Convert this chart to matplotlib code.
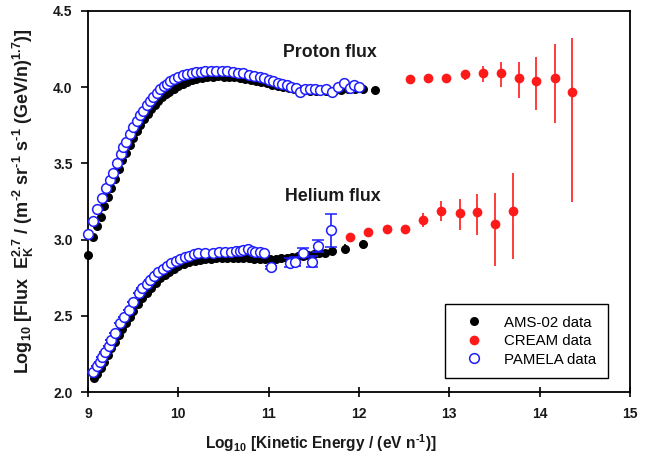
import matplotlib
matplotlib.use("Agg")
import matplotlib.pyplot as plt
from matplotlib.lines import Line2D

plt.rcParams['font.family'] = ['Liberation Sans', 'DejaVu Sans']
plt.rcParams['mathtext.fontset'] = 'custom'
plt.rcParams['mathtext.rm'] = 'Liberation Sans'
plt.rcParams['mathtext.bf'] = 'Liberation Sans:bold'

# ---------------- data ----------------
# Proton, PAMELA
pam_p_x = [9.00, 9.05, 9.10, 9.15, 9.20, 9.24, 9.28, 9.32, 9.36, 9.39, 9.42, 9.46, 9.50,
           9.54, 9.58, 9.61, 9.65, 9.69, 9.72, 9.76, 9.80, 9.84, 9.87, 9.91, 9.95, 10.00,
           10.05, 10.10, 10.15, 10.20, 10.25, 10.30, 10.36, 10.42, 10.48, 10.54, 10.60,
           10.66, 10.72, 10.78, 10.84, 10.90, 10.95, 11.00, 11.05, 11.10, 11.15, 11.20,
           11.25, 11.30, 11.35, 11.40, 11.46, 11.51, 11.57, 11.63, 11.70, 11.77, 11.83,
           11.90, 11.95, 12.00]
pam_p_y = [3.04, 3.12, 3.20, 3.275, 3.34, 3.39, 3.44, 3.50, 3.56, 3.605, 3.64, 3.69, 3.737,
           3.78, 3.815, 3.847, 3.88, 3.91, 3.935, 3.96, 3.985, 4.005, 4.023, 4.04, 4.052, 4.068,
           4.078, 4.086, 4.092, 4.097, 4.100, 4.104, 4.107, 4.108, 4.108, 4.104, 4.100,
           4.095, 4.090, 4.083, 4.075, 4.067, 4.060, 4.050, 4.040, 4.030, 4.020, 4.012,
           4.004, 3.995, 3.970, 3.990, 3.985, 3.990, 3.980, 3.990, 3.968, 4.000, 4.030,
           3.995, 4.015, 4.000]

# Proton, AMS-02
ams_p_x = [9.00, 9.06, 9.10, 9.14, 9.18, 9.22, 9.26, 9.30, 9.34, 9.38, 9.42, 9.46, 9.50,
           9.54, 9.58, 9.62, 9.66, 9.70, 9.74, 9.78, 9.82, 9.86, 9.90, 9.95, 10.00, 10.05,
           10.10, 10.15, 10.20, 10.26, 10.32, 10.38, 10.44, 10.50, 10.56, 10.62, 10.68,
           10.74, 10.80, 10.86, 10.92, 10.98, 11.04, 11.10, 11.16, 11.22, 11.28, 11.34,
           11.40, 11.46, 11.52, 11.58, 11.64, 11.72, 11.80, 11.88, 11.96, 12.04, 12.18]
ams_p_y = [2.90, 3.02, 3.09, 3.15, 3.22, 3.28, 3.34, 3.40, 3.46, 3.52, 3.57, 3.62, 3.665,
           3.71, 3.75, 3.79, 3.825, 3.855, 3.885, 3.91, 3.935, 3.955, 3.97, 3.99, 4.005, 4.02,
           4.035, 4.045, 4.055, 4.06, 4.065, 4.07, 4.072, 4.07, 4.068, 4.064, 4.06,
           4.055, 4.048, 4.04, 4.033, 4.025, 4.017, 4.01, 4.003, 3.997, 3.99, 3.985,
           3.98, 3.978, 3.978, 3.98, 3.978, 3.975, 3.98, 3.985, 3.99, 3.985, 3.98]
ams_p_err = [0.0] * 56 + [0.01, 0.015, 0.022]

# Proton, CREAM
cream_p_x = [12.56, 12.76, 12.96, 13.17, 13.37, 13.57, 13.77, 13.96, 14.17, 14.36]
cream_p_y = [4.052, 4.062, 4.062, 4.087, 4.09, 4.09, 4.062, 4.043, 4.062, 3.967]
cream_p_lo = [0.022, 0.022, 0.025, 0.04, 0.058, 0.087, 0.135, 0.193, 0.30, 0.722]
cream_p_hi = [0.022, 0.022, 0.025, 0.026, 0.051, 0.073, 0.105, 0.157, 0.22, 0.355]

# Helium, PAMELA
pam_he_x = [9.06, 9.10, 9.13, 9.16, 9.19, 9.23, 9.26, 9.30, 9.35, 9.40, 9.45, 9.50, 9.56,
            9.60, 9.65, 9.69, 9.73, 9.78, 9.83, 9.88, 9.92, 9.97, 10.02, 10.07, 10.12,
            10.17, 10.22, 10.30, 10.38, 10.45, 10.52, 10.58, 10.64, 10.68, 10.72, 10.77,
            10.81, 10.85, 10.90, 10.95, 11.03, 11.24, 11.29, 11.38, 11.48, 11.55, 11.69]
pam_he_y = [2.133, 2.17, 2.20, 2.23, 2.265, 2.30, 2.34, 2.39, 2.45, 2.495, 2.54, 2.59, 2.65,
            2.68, 2.71, 2.735, 2.76, 2.785, 2.81, 2.83, 2.848, 2.862, 2.875, 2.885, 2.895,
            2.905, 2.91, 2.912, 2.915, 2.918, 2.92, 2.92, 2.922, 2.925, 2.93, 2.94,
            2.925, 2.92, 2.918, 2.91, 2.82, 2.848, 2.855, 2.915, 2.855, 2.96, 3.06]
pam_he_err = [0.0] * 40 + [0.01, 0.03, 0.03, 0.03, 0.035, 0.04, 0.11]

# Helium, AMS-02
ams_he_x = [9.07, 9.10, 9.14, 9.18, 9.22, 9.26, 9.30, 9.34, 9.38, 9.42, 9.46, 9.50, 9.55,
            9.60, 9.65, 9.70, 9.75, 9.80, 9.85, 9.90, 9.95, 10.00, 10.06, 10.12, 10.18,
            10.24, 10.30, 10.36, 10.42, 10.48, 10.54, 10.60, 10.66, 10.72, 10.78, 10.84,
            10.90, 10.96, 11.02, 11.08, 11.14, 11.20, 11.26, 11.32, 11.38, 11.44, 11.50,
            11.56, 11.62, 11.70, 11.85, 12.04]
ams_he_y = [2.09, 2.12, 2.16, 2.20, 2.245, 2.29, 2.33, 2.375, 2.415, 2.455, 2.49, 2.53, 2.575,
            2.615, 2.65, 2.685, 2.715, 2.745, 2.77, 2.79, 2.81, 2.825, 2.84, 2.85, 2.86,
            2.866, 2.87, 2.875, 2.877, 2.877, 2.877, 2.877, 2.877, 2.877, 2.876, 2.875,
            2.874, 2.873, 2.872, 2.873, 2.876, 2.88, 2.885, 2.89, 2.895, 2.90, 2.905,
            2.91, 2.915, 2.925, 2.94, 2.97]
ams_he_err = [0.0] * 49 + [0.02, 0.03, 0.03]

# Helium, CREAM
cream_he_x = [11.90, 12.10, 12.31, 12.51, 12.71, 12.91, 13.12, 13.31, 13.51, 13.71]
cream_he_y = [3.02, 3.05, 3.07, 3.07, 3.13, 3.188, 3.177, 3.18, 3.10, 3.188]
cream_he_lo = [0.022, 0.022, 0.022, 0.025, 0.05, 0.068, 0.117, 0.15, 0.273, 0.318]
cream_he_hi = [0.022, 0.022, 0.022, 0.025, 0.047, 0.062, 0.088, 0.117, 0.208, 0.252]

x_ticks = [9, 10, 11, 12, 13, 14, 15]
y_ticks = [2.0, 2.5, 3.0, 3.5, 4.0, 4.5]

# ---------------- plot ----------------
BLUE = '#1e1eff'
RED = '#ff1a1a'
TXT = '#1a1a1a'
HY = '\u2010'

fig = plt.figure(figsize=(6.57, 4.59), dpi=100)
ax = fig.add_axes([88/657, 1-392/459, 542/657, 381/459])

ams_kw = dict(fmt='o', color='black', ms=6.5, mew=0, ecolor='black', elinewidth=1.2,
              capsize=3.5, capthick=1.2, zorder=3, clip_on=False)
ax.errorbar(ams_p_x, ams_p_y, yerr=ams_p_err, **ams_kw)
ax.errorbar(ams_he_x, ams_he_y, yerr=ams_he_err, **ams_kw)

pam_kw = dict(fmt='o', mfc='white', mec=BLUE, mew=1.1, ms=7, ecolor=BLUE, elinewidth=1.2,
              capsize=4, capthick=1.2, zorder=4, clip_on=False)
ax.errorbar(pam_p_x, pam_p_y, **pam_kw)
ax.errorbar(pam_he_x, pam_he_y, yerr=pam_he_err, **pam_kw)

cr_kw = dict(fmt='o', color=RED, ms=7, mew=0, ecolor=RED, elinewidth=1.2,
             capsize=4.3, capthick=1.2, zorder=5)
ax.errorbar(cream_p_x, cream_p_y, yerr=[cream_p_lo, cream_p_hi], **cr_kw)
ax.errorbar(cream_he_x, cream_he_y, yerr=[cream_he_lo, cream_he_hi], **cr_kw)

ax.set_xlim(9, 15)
ax.set_ylim(2.0, 4.5)
ax.set_xticks(x_ticks)
ax.set_yticks(y_ticks)
ax.set_xticklabels([str(t) for t in x_ticks], fontweight='bold', fontsize=10, color=TXT)
ax.set_yticklabels([f'{t:.1f}' for t in y_ticks], fontweight='bold', fontsize=10, color=TXT)
ax.tick_params(axis='x', direction='inout', length=7, width=1.2, pad=7)
ax.tick_params(axis='y', direction='out', length=5, width=1.2, pad=6)
for s in ax.spines.values():
    s.set_linewidth(1.3)

ax.text(11.68, 4.225, 'Proton flux', fontsize=12.8, fontweight='bold', color=TXT,
        ha='center', va='center')
ax.text(11.71, 3.28, 'Helium flux', fontsize=12.8, fontweight='bold', color=TXT,
        ha='center', va='center')

fig.text(321/657, 1-443/459,
         r'Log$_{\mathbf{10}}$ [Kinetic Energy / (eV n$^{\mathbf{' + HY + r'1}}$)]',
         fontsize=11.2, fontweight='bold', color=TXT, ha='center', va='center')
fig.text(23/657, 1-201/459,
         r'Log$_{\mathbf{10}}$ [Flux  E$^{\mathbf{2.7}}_{\mathbf{K}}$ / (m$^{\mathbf{' + HY +
         r'2}}$ sr$^{\mathbf{' + HY + r'1}}$ s$^{\mathbf{' + HY + r'1}}$ (GeV/n)$^{\mathbf{1.7}}$)]',
         fontsize=13, fontweight='bold', color=TXT, ha='center', va='center', rotation=90)

handles = [Line2D([], [], ls='none', marker='o', color='black', ms=6.5, mew=0),
           Line2D([], [], ls='none', marker='o', color=RED, ms=7, mew=0),
           Line2D([], [], ls='none', marker='o', mfc='white', mec=BLUE, mew=1.1, ms=7)]
leg = ax.legend(handles, ['AMS-02 data', 'CREAM data', 'PAMELA data'],
                loc='lower right', bbox_to_anchor=(0.959, 0.037), fontsize=10.8,
                frameon=True, fancybox=False, edgecolor='black', framealpha=1,
                handletextpad=0.8, labelspacing=0.3, borderpad=0.75, handlelength=2.4,
                borderaxespad=0)
leg.get_frame().set_linewidth(1.0)

fig.savefig('out.png', dpi=100)
